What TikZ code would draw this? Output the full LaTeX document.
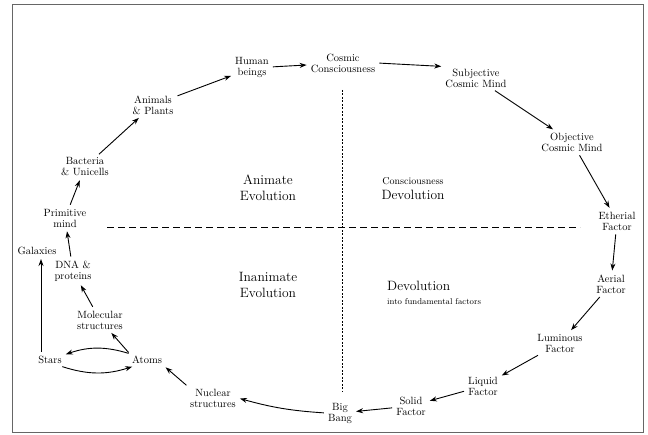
\documentclass[tikz,border=0pt]{standalone}
\usetikzlibrary{arrows.meta}
\tikzset{
  lbl/.style={align=center, inner sep=2pt, font=\fontsize{10.5}{11}\selectfont},
  big/.style={align=center, inner sep=1pt, font=\fontsize{13.5}{16}\selectfont},
  arr/.style={-{Stealth[length=7pt,width=5pt]}, line width=0.9pt, shorten <=2pt, shorten >=2pt},
}
\begin{document}
\begin{tikzpicture}[x=1pt, y=-1pt]
            \useasboundingbox (0,0) rectangle (648,435);
            \draw[black!60, line width=1pt] (12,5) rectangle (643,433);

            % quarter lines
            \coordinate (vtop) at (342,90);
            \coordinate (vbot) at (342,392);
            \coordinate (hleft) at (107,228);
            \coordinate (hright) at (580,228);
            \draw[line width=0.9pt, dash pattern=on 2pt off 1.5pt] (vtop) -- (vbot);
            \draw[line width=1pt, dash pattern=on 7pt off 4pt] (hleft) -- (hright);

            % quarter titles
            \node[big] (animate) at (268,188) {Animate\\Evolution};
            \node[big] (inanimate) at (268,285) {Inanimate\\Evolution};
            \node[align=center, inner sep=1pt, font=\fontsize{13.5}{16}\selectfont] (consdev) at (413,189)
                {{\fontsize{10}{11}\selectfont Consciousness}\\[-1pt]Devolution};
            \node[align=left, anchor=north west, inner sep=0pt, font=\fontsize{13.5}{16}\selectfont] (devfact) at (387,281)
                {Devolution\\[-2pt]{\fontsize{8.5}{10}\selectfont into fundamental factors}};

            % stages
            \node[lbl] (cosmic) at (343,63) {Cosmic\\Consciousness};
            \node[lbl] (subj) at (476,78) {Subjective\\Cosmic Mind};
            \node[lbl] (obj) at (572,142) {Objective\\Cosmic Mind};
            \node[lbl] (ether) at (617,221) {Etherial\\Factor};
            \node[lbl] (aerial) at (611,284) {Aerial\\Factor};
            \node[lbl] (lumin) at (560,343) {Luminous\\Factor};
            \node[lbl] (liquid) at (483,386) {Liquid\\Factor};
            \node[lbl] (solid) at (411,406) {Solid\\Factor};
            \node[lbl] (bang) at (340,413) {Big\\Bang};
            \node[lbl] (nuclear) at (213,398) {Nuclear\\structures};
            \node[lbl] (atoms) at (147,360) {Atoms};
            \node[lbl] (stars) at (50,360) {Stars};
            \node[lbl] (galaxies) at (37,251) {Galaxies};
            \node[lbl] (molec) at (100,320) {Molecular\\structures};
            \node[lbl] (dna) at (73,271) {DNA \&\\proteins};
            \node[lbl] (prim) at (65,218) {Primitive\\mind};
            \node[lbl] (bact) at (85,167) {Bacteria\\\& Unicells};
            \node[lbl] (animals) at (153,105) {Animals\\\& Plants};
            \node[lbl] (human) at (252,68) {Human\\beings};

            % the cycle
            \draw[arr] (human) -- (cosmic);
            \draw[arr] (cosmic.east) -- (subj.north west);
            \draw[arr] (subj) -- (obj);
            \draw[arr] (obj) -- (ether);
            \draw[arr] (ether) -- (aerial);
            \draw[arr] (aerial) -- (lumin);
            \draw[arr] (lumin) -- (liquid);
            \draw[arr] (liquid) -- (solid);
            \draw[arr] (solid) -- (bang);
            \draw[arr] (bang.west) to[bend left=6] (nuclear.east);
            \draw[arr] (nuclear.north west) -- (atoms.south east);
            \draw[arr] (atoms.160) to[bend right=18] (stars.20);
            \draw[arr] (stars.-30) to[bend right=18] (atoms.-155);
            \draw[arr] ([xshift=4pt]galaxies.south |- stars.north) -- ([xshift=4pt]galaxies.south);
            \draw[arr] (atoms.north west) -- (molec);
            \draw[arr] (molec) -- (dna);
            \draw[arr] (dna) -- (prim);
            \draw[arr] (prim) -- (bact);
            \draw[arr] (bact) -- (animals);
            \draw[arr] (animals) -- (human);
        \end{tikzpicture}
\end{document}
